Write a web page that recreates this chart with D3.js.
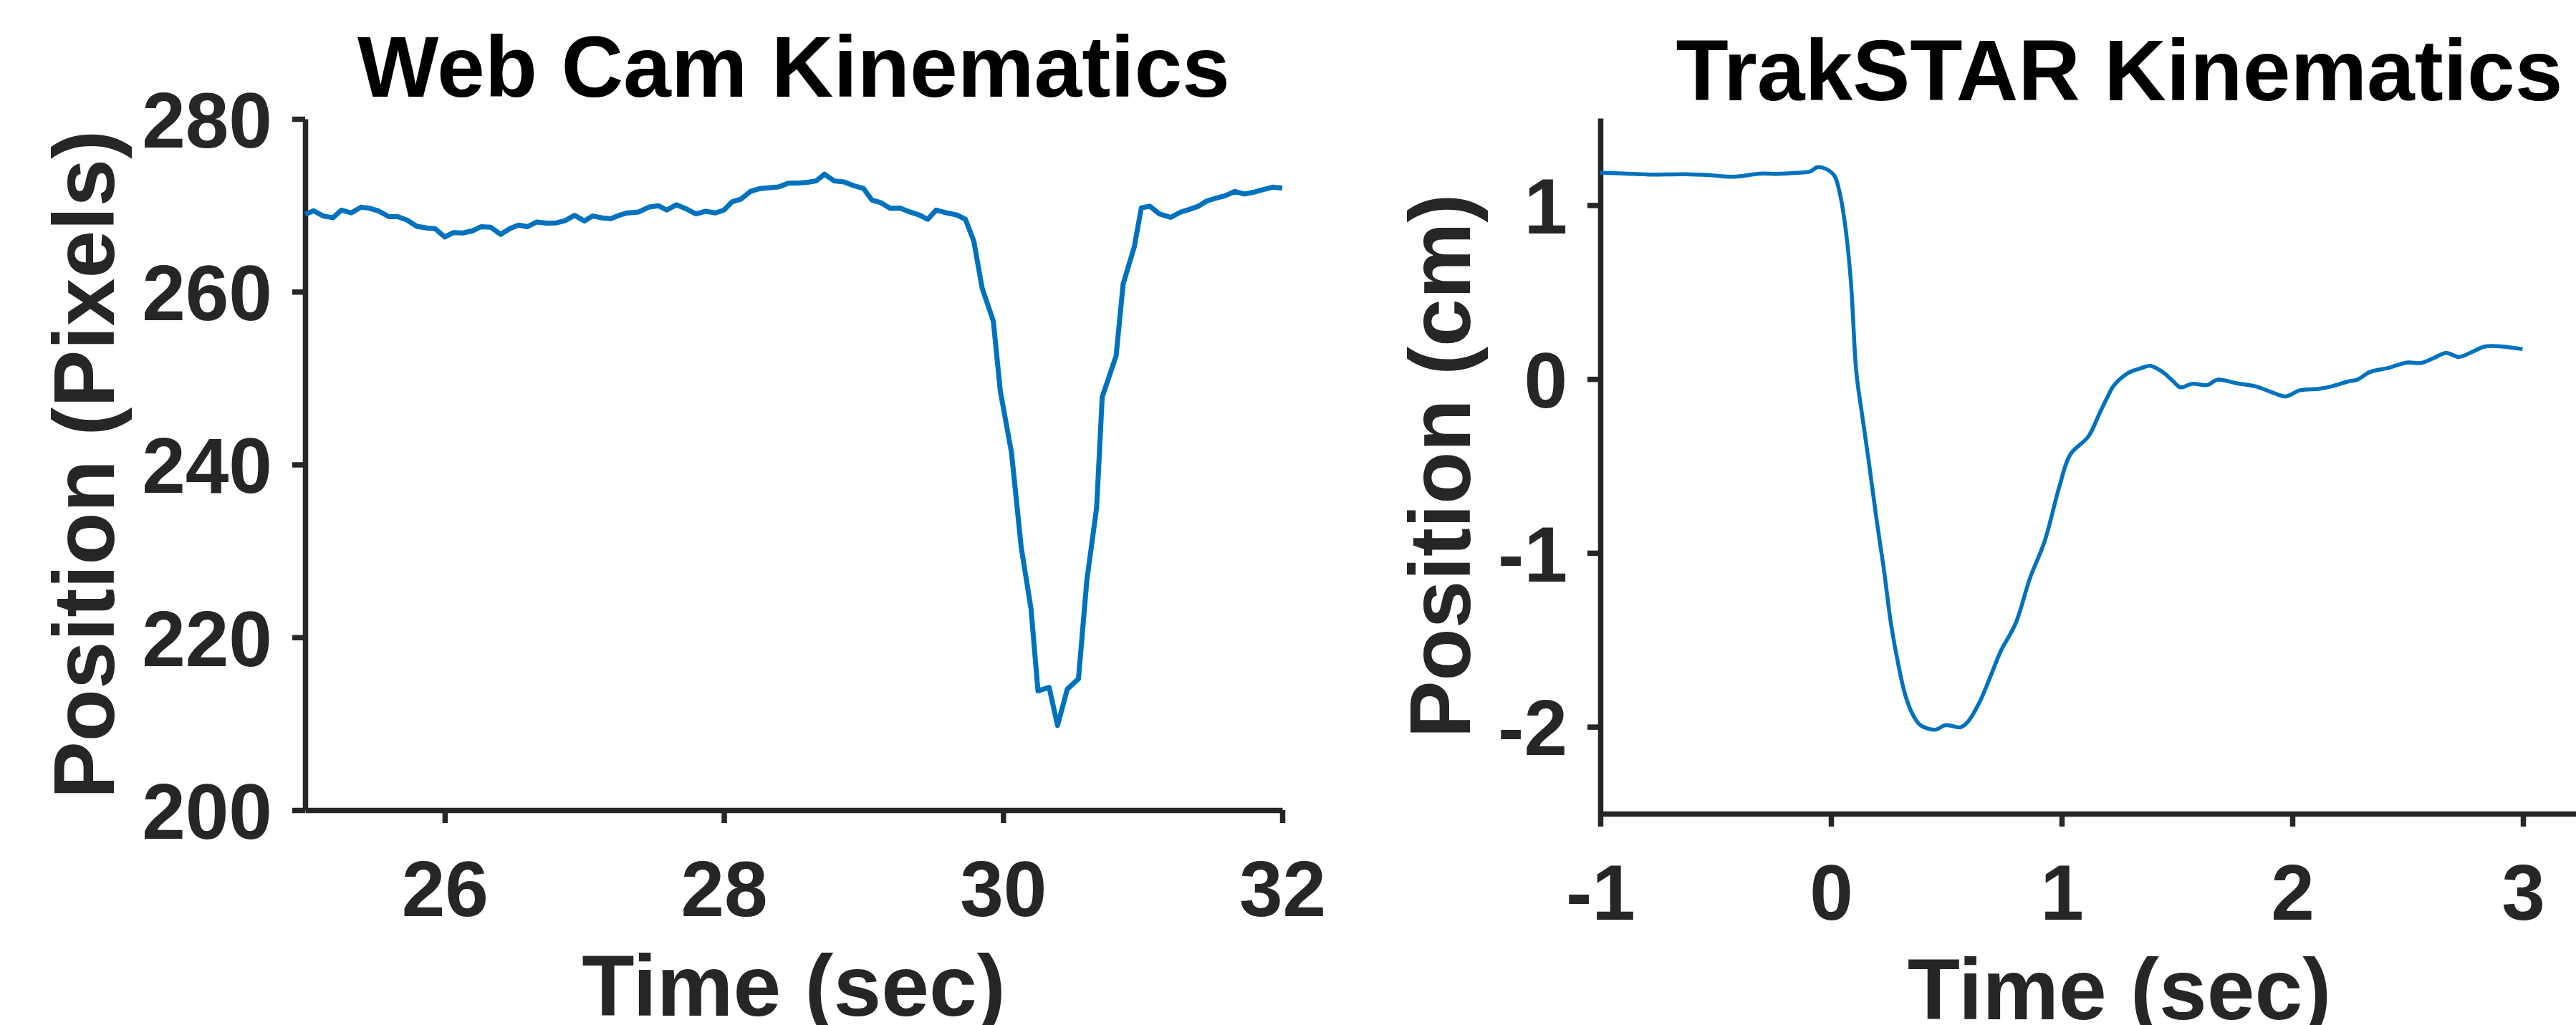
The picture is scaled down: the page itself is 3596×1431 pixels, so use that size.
<!DOCTYPE html>
<html>
<head>
<meta charset="utf-8">
<script src="https://cdn.jsdelivr.net/npm/d3@7"></script>
<style>
  html, body { margin: 0; padding: 0; background: #fff; }
  svg { display: block; background: #fff; font-family: "Liberation Sans", Arial, Helvetica, sans-serif; font-weight: bold; }
  .axis path, .axis line { stroke: #262626; stroke-width: 7.5; }
  .axis text { fill: #262626; font-size: 109px; font-family: "Liberation Sans", Arial, Helvetica, sans-serif; font-weight: bold; }
  .title { font-size: 120px; fill: #000; }
  .label { font-size: 120px; fill: #262626; }
  .trace { fill: none; stroke: #0072BD; stroke-linejoin: round; }
</style>
</head>
<body>
<svg id="chart" width="3596" height="1431"></svg>
<script>
// web cam panel (sec, pixels)
const webcamTime = [
  25.00, 25.06, 25.13, 25.20, 25.26, 25.33, 25.40, 25.46, 25.53, 25.60, 25.66, 25.73,
  25.80, 25.87, 25.93, 26.00, 26.06, 26.13, 26.20, 26.26, 26.33, 26.40, 26.47, 26.53,
  26.59, 26.66, 26.73, 26.80, 26.86, 26.93, 27.00, 27.06, 27.13, 27.19, 27.25, 27.30,
  27.39, 27.46, 27.53, 27.59, 27.66, 27.73, 27.80, 27.87, 27.94, 28.00, 28.06, 28.12,
  28.19, 28.26, 28.33, 28.39, 28.46, 28.53, 28.60, 28.66, 28.72, 28.79, 28.86, 28.93,
  29.00, 29.06, 29.12, 29.19, 29.26, 29.32, 29.40, 29.46, 29.52, 29.59, 29.67, 29.73,
  29.79, 29.85, 29.93, 29.98, 30.06, 30.13, 30.20, 30.25, 30.33, 30.39, 30.46, 30.54,
  30.60, 30.67, 30.71, 30.81, 30.86, 30.94, 30.99, 31.05, 31.12, 31.20, 31.27, 31.33,
  31.40, 31.46, 31.52, 31.59, 31.66, 31.73, 31.79, 31.86, 31.93, 32.00
];
const webcamPos = [
  268.96, 269.37, 268.76, 268.57, 269.45, 269.12, 269.78, 269.67, 269.31, 268.68, 268.71, 268.29,
  267.57, 267.38, 267.30, 266.33, 266.83, 266.80, 267.05, 267.52, 267.46, 266.63, 267.33, 267.71,
  267.52, 268.07, 267.93, 267.96, 268.21, 268.84, 268.18, 268.76, 268.54, 268.46, 268.84, 269.10,
  269.23, 269.78, 269.95, 269.45, 270.06, 269.59, 269.01, 269.31, 269.12, 269.45, 270.42, 270.70,
  271.61, 271.94, 272.05, 272.13, 272.55, 272.57, 272.66, 272.82, 273.60, 272.82, 272.71, 272.27,
  271.94, 270.61, 270.34, 269.65, 269.68, 269.30, 268.87, 268.39, 269.44, 269.15, 268.87, 268.39,
  265.87, 260.40, 256.60, 248.50, 241.40, 230.40, 223.30, 213.80, 214.20, 209.80, 214.00, 215.20,
  226.60, 235.00, 247.80, 252.60, 260.90, 265.20, 269.70, 269.90, 269.00, 268.60, 269.20, 269.50,
  269.90, 270.50, 270.80, 271.10, 271.60, 271.30, 271.50, 271.80, 272.10, 272.00
];
const webcamXTicks = [26, 28, 30, 32];
const webcamYTicks = [200, 220, 240, 260, 280];

// trakSTAR panel (sec, cm)
const trakTime = [
  -1.00, -0.90, -0.79, -0.63, -0.52, -0.42, -0.31, -0.23, -0.15, -0.09, -0.06, -0.02,
  0.015, 0.039, 0.062, 0.086, 0.110, 0.134, 0.165, 0.197, 0.229, 0.260, 0.292, 0.324,
  0.356, 0.387, 0.450, 0.498, 0.561, 0.593, 0.641, 0.688, 0.736, 0.800, 0.863, 0.926,
  0.990, 1.037, 1.116, 1.164, 1.200, 1.226, 1.289, 1.344, 1.385, 1.440, 1.482, 1.516,
  1.564, 1.633, 1.675, 1.757, 1.840, 1.909, 1.971, 2.033, 2.116, 2.171, 2.240, 2.281,
  2.336, 2.419, 2.501, 2.557, 2.612, 2.667, 2.722, 2.777, 2.832, 2.887, 2.943, 2.998
];
const trakPos = [
  1.186, 1.182, 1.176, 1.178, 1.172, 1.163, 1.181, 1.180, 1.186, 1.194, 1.218, 1.207,
  1.168, 1.063, 0.879, 0.564, 0.038, -0.198, -0.487, -0.803, -1.092, -1.407, -1.643, -1.827,
  -1.933, -1.990, -2.017, -1.990, -2.003, -1.972, -1.867, -1.722, -1.565, -1.407, -1.144, -0.934,
  -0.619, -0.435, -0.330, -0.198, -0.100, -0.038, 0.035, 0.062, 0.076, 0.038, -0.011, -0.048,
  -0.028, -0.034, -0.004, -0.024, -0.042, -0.075, -0.100, -0.065, -0.056, -0.042, -0.015, -0.004,
  0.040, 0.065, 0.095, 0.092, 0.120, 0.150, 0.127, 0.154, 0.186, 0.189, 0.182, 0.172
];
const trakXTicks = [-1, 0, 1, 2, 3];
const trakYTicks = [-2, -1, 0, 1];

const svg = d3.select("#chart");

const fmtMinus = d => (d < 0 ? "-" + Math.abs(d) : String(d));

function drawPanel(p) {
  const g = svg.append("g");

  // y axis
  g.append("g")
    .attr("class", "axis")
    .attr("transform", `translate(${p.x.range()[0]}, 0)`)
    .call(d3.axisLeft(p.y).tickValues(p.yTicks).tickFormat(fmtMinus)
      .tickSize(18).tickSizeOuter(0).tickPadding(28))
    .call(a => a.selectAll("text").attr("dy", "0.36em"));

  // x axis
  g.append("g")
    .attr("class", "axis")
    .attr("transform", `translate(0, ${p.y.range()[0]})`)
    .call(d3.axisBottom(p.x).tickValues(p.xTicks).tickFormat(fmtMinus)
      .tickSize(18).tickSizeOuter(0))
    .call(a => a.selectAll("text").attr("y", 148).attr("dy", null));

  const line = d3.line()
    .x((d, i) => p.x(p.time[i]))
    .y(d => p.y(d))
    .curve(p.curve);

  g.append("path")
    .datum(p.pos)
    .attr("class", "trace")
    .attr("stroke-width", p.lineWidth)
    .attr("d", line);

  const cx = (p.x.range()[0] + p.x.range()[1]) / 2;
  const cy = (p.y.range()[0] + p.y.range()[1]) / 2;

  g.append("text")
    .attr("class", "title")
    .attr("x", cx)
    .attr("y", p.titleY)
    .attr("text-anchor", "middle")
    .text(p.title);

  g.append("text")
    .attr("class", "label")
    .attr("x", cx)
    .attr("y", p.y.range()[0] + 287)
    .attr("text-anchor", "middle")
    .text("Time (sec)");

  g.append("text")
    .attr("class", "label")
    .attr("transform", `translate(${p.yLabelX}, ${cy}) rotate(-90)`)
    .attr("text-anchor", "middle")
    .text(p.yLabel);
}

drawPanel({
  x: d3.scaleLinear().domain([25, 32]).range([426, 1790]),
  y: d3.scaleLinear().domain([200, 280]).range([1131, 166]),
  xTicks: webcamXTicks,
  yTicks: webcamYTicks,
  time: webcamTime,
  pos: webcamPos,
  curve: d3.curveLinear,
  lineWidth: 7,
  title: "Web Cam Kinematics",
  titleY: 135,
  yLabel: "Position (Pixels)",
  yLabelX: 159
});

drawPanel({
  x: d3.scaleLinear().domain([-1, 3.5]).range([2234, 3683]),
  y: d3.scaleLinear().domain([-2.5, 1.5]).range([1136, 165]),
  xTicks: trakXTicks,
  yTicks: trakYTicks,
  time: trakTime,
  pos: trakPos,
  curve: d3.curveCatmullRom,
  lineWidth: 5.5,
  title: "TrakSTAR Kinematics",
  titleY: 140,
  yLabel: "Position (cm)",
  yLabelX: 2052
});
</script>
</body>
</html>
